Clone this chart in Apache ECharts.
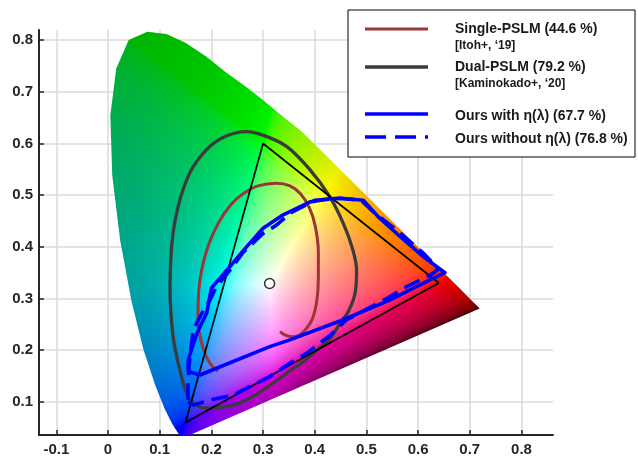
<!DOCTYPE html>
<html><head><meta charset="utf-8">
<script src="https://cdn.jsdelivr.net/npm/echarts@6/dist/echarts.min.js"></script>
<style>html,body{margin:0;padding:0;background:#fff}#c{width:638px;height:462px}</style>
</head><body><div id="c"></div>
<script>
// ---- tick labels ----
const xTicks = [-0.1, 0, 0.1, 0.2, 0.3, 0.4, 0.5, 0.6, 0.7, 0.8];
const yTicks = [0.1, 0.2, 0.3, 0.4, 0.5, 0.6, 0.7, 0.8];

// ---- spectral locus (460-640 nm) ----
const locusX = [0.1440,0.1355,0.1241,0.1096,0.0913,0.0687,0.0454,0.0235,0.0082,0.0045,0.0160,0.0400,0.0760,0.1130,0.1500,0.1900,0.2280,0.2650,0.3010,0.3370,0.3731,0.4087,0.4441,0.4788,0.5125,0.5448,0.5752,0.6029,0.6270,0.6482,0.6658,0.6801,0.6915,0.7006,0.7079,0.7140,0.7190];
const locusY = [0.0297,0.0399,0.0578,0.0868,0.1327,0.2007,0.2950,0.4127,0.5384,0.6548,0.7450,0.8000,0.8160,0.8120,0.7950,0.7680,0.7380,0.7110,0.6830,0.6530,0.6245,0.5896,0.5547,0.5202,0.4866,0.4544,0.4242,0.3965,0.3725,0.3514,0.3340,0.3197,0.3083,0.2993,0.2920,0.2859,0.2809];

// ---- Single-PSLM ----
const singleX = [0.213,0.197,0.183,0.174,0.176,0.190,0.213,0.238,0.262,0.290,0.326,0.352,0.372,0.390,0.401,0.407,0.407,0.404,0.396,0.384,0.370,0.356,0.343,0.333];
const singleY = [0.159,0.175,0.207,0.259,0.320,0.390,0.445,0.482,0.503,0.518,0.523,0.518,0.503,0.475,0.440,0.390,0.340,0.295,0.262,0.242,0.229,0.226,0.229,0.236];

// ---- Dual-PSLM ----
const dualX = [0.223,0.191,0.165,0.152,0.139,0.126,0.120,0.123,0.130,0.145,0.165,0.197,0.230,0.268,0.300,0.346,0.391,0.429,0.455,0.472,0.481,0.478,0.465,0.449,0.429,0.404,0.378,0.352,0.300,0.255,0.223];
const dualY = [0.090,0.088,0.097,0.117,0.162,0.226,0.323,0.400,0.452,0.510,0.555,0.594,0.615,0.623,0.616,0.594,0.549,0.497,0.446,0.400,0.355,0.310,0.275,0.252,0.222,0.200,0.178,0.160,0.123,0.098,0.090];

// ---- sRGB triangle ----
const srgbX = [0.64, 0.30, 0.15, 0.64];
const srgbY = [0.33, 0.60, 0.06, 0.33];

// ---- Ours with eta ----
const oursX = [0.155,0.155,0.172,0.191,0.200,0.236,0.268,0.300,0.339,0.391,0.429,0.449,0.494,0.523,0.565,0.610,0.652,0.623,0.545,0.455,0.352,0.313,0.178,0.155];
const oursY = [0.159,0.181,0.233,0.272,0.320,0.362,0.400,0.436,0.462,0.487,0.493,0.494,0.490,0.458,0.420,0.381,0.350,0.336,0.297,0.259,0.220,0.207,0.152,0.159];

// ---- Ours without eta ----
const oursNoX = [0.155,0.165,0.204,0.242,0.313,0.352,0.384,0.429,0.462,0.539,0.578,0.623,0.640,0.610,0.558,0.513,0.490,0.449,0.400,0.352,0.326,0.300,0.262,0.236,0.210,0.197,0.178,0.165,0.159,0.155,0.155];
const oursNoY = [0.100,0.094,0.105,0.113,0.149,0.175,0.194,0.228,0.259,0.300,0.323,0.345,0.357,0.388,0.433,0.468,0.490,0.494,0.490,0.465,0.442,0.426,0.390,0.355,0.323,0.297,0.265,0.239,0.194,0.145,0.100];

// ---- white point ----
const whiteX = [0.3127];
const whiteY = [0.329];

const zip = (a, b) => a.map((v, i) => [v, b[i]]);

function gam(v){ v = Math.max(0, Math.min(1, v)); return v <= 0.0031308 ? 12.92*v : 1.055*Math.pow(v, 1/2.4) - 0.055; }
const PB = [locusX[0], locusY[0]], PR = [locusX[locusX.length-1], locusY[locusY.length-1]];
const pdx = PR[0]-PB[0], pdy = PR[1]-PB[1], PL = Math.hypot(pdx, pdy), pux = pdx/PL, puy = pdy/PL;
function colorAt(x, y){
  if (y <= 0.002) return [0,0,0];
  const X = x/y, Z = (1-x-y)/y;
  let r = 3.2406*X - 1.5372 - 0.4986*Z;
  let g = -0.9689*X + 1.8758 + 0.0415*Z;
  let b = 0.0557*X - 0.2040 + 1.0570*Z;
  const neg = Math.max(0,-r) + Math.max(0,-g) + Math.max(0,-b);
  r = Math.max(r,0); g = Math.max(g,0); b = Math.max(b,0);
  const m = Math.max(r,g,b,1e-6);
  let s = Math.pow(m/(m+neg), 1.35);
  const rx = x-PB[0], ry = y-PB[1];
  let t = (rx*pux + ry*puy)/PL; t = Math.max(0, Math.min(1, t));
  const d = Math.max(0, -rx*puy + ry*pux);
  const me = 0.03 + 0.97*Math.exp(-5*Math.pow(t, 1.5));
  const w = 0.09;
  const k = d >= w ? 1 : me + (1-me)*Math.pow(d/w, 0.7);
  s *= k;
  return [gam(r/m*s)*255, gam(g/m*s)*255, gam(b/m*s)*255];
}

let fillCache = null;
function renderFill(params, api){
  const cs = params.coordSys;
  const W = Math.round(cs.width), H = Math.round(cs.height);
  const a = api.coord([0,0]), b = api.coord([1,1]);
  const sx = b[0]-a[0], sy = b[1]-a[1];
  if (!fillCache){
    const cv = document.createElement('canvas'); cv.width = W; cv.height = H;
    const ctx = cv.getContext('2d');
    const img = ctx.createImageData(W, H);
    for (let j = 0; j < H; j++){
      const dy = (cs.y + j + 0.5 - a[1])/sy;
      for (let i = 0; i < W; i++){
        const dx = (cs.x + i + 0.5 - a[0])/sx;
        const c = colorAt(dx, dy);
        const o = (j*W + i)*4;
        img.data[o] = c[0]; img.data[o+1] = c[1]; img.data[o+2] = c[2]; img.data[o+3] = 255;
      }
    }
    ctx.putImageData(img, 0, 0);
    const cv2 = document.createElement('canvas'); cv2.width = W; cv2.height = H;
    const c2 = cv2.getContext('2d');
    c2.beginPath();
    for (let k = 0; k < locusX.length; k++){
      const p = api.coord([locusX[k], locusY[k]]);
      if (k === 0) c2.moveTo(p[0]-cs.x, p[1]-cs.y); else c2.lineTo(p[0]-cs.x, p[1]-cs.y);
    }
    c2.closePath();
    c2.fillStyle = '#000'; c2.fill();
    c2.globalCompositeOperation = 'source-in';
    c2.drawImage(cv, 0, 0);
    fillCache = cv2;
  }
  return { type: 'image', silent: true, style: { image: fillCache, x: cs.x, y: cs.y, width: W, height: H } };
}

const FONT = 'Liberation Sans, Arial, sans-serif';
const AX = '#262626';
const chart = echarts.init(document.getElementById('c'), null, { renderer: 'canvas' });
const graphic = [
  { type: 'rect', shape: { x: 348, y: 10, width: 287, height: 147 }, style: { fill: '#fff', stroke: '#000', lineWidth: 1 }, z: 100 },
  { type: 'line', shape: { x1: 365, y1: 29, x2: 428, y2: 29 }, style: { stroke: '#9b3636', lineWidth: 3 }, z: 101 },
  { type: 'line', shape: { x1: 365, y1: 67, x2: 428, y2: 67 }, style: { stroke: '#3b3b3b', lineWidth: 3.3 }, z: 101 },
  { type: 'line', shape: { x1: 365, y1: 114, x2: 428, y2: 114 }, style: { stroke: '#0000ff', lineWidth: 3.6 }, z: 101 },
  { type: 'line', shape: { x1: 365, y1: 137, x2: 428, y2: 137 }, style: { stroke: '#0000ff', lineWidth: 3.6, lineDash: [21, 9] }, z: 101 },
  { type: 'text', x: 455, y: 29, style: { text: 'Single-PSLM (44.6 %)', font: 'bold 14px ' + FONT, fill: '#1a1a1a', verticalAlign: 'middle' }, z: 101 },
  { type: 'text', x: 455, y: 46, style: { text: '[Itoh+, \u201819]', font: 'bold 12px ' + FONT, fill: '#1a1a1a', verticalAlign: 'middle' }, z: 101 },
  { type: 'text', x: 455, y: 67, style: { text: 'Dual-PSLM (79.2 %)', font: 'bold 14px ' + FONT, fill: '#1a1a1a', verticalAlign: 'middle' }, z: 101 },
  { type: 'text', x: 455, y: 84, style: { text: '[Kaminokado+, \u201820]', font: 'bold 12px ' + FONT, fill: '#1a1a1a', verticalAlign: 'middle' }, z: 101 },
  { type: 'text', x: 455, y: 116, style: { text: 'Ours with \u03b7(\u03bb) (67.7 %)', font: 'bold 14px ' + FONT, fill: '#1a1a1a', verticalAlign: 'middle' }, z: 101 },
  { type: 'text', x: 455, y: 139, style: { text: 'Ours without \u03b7(\u03bb) (76.8 %)', font: 'bold 14px ' + FONT, fill: '#1a1a1a', verticalAlign: 'middle' }, z: 101 }
];

chart.setOption({
  animation: false,
  backgroundColor: '#fff',
  grid: { left: 39, right: 85, top: 30, bottom: 27, containLabel: false },
  xAxis: {
    type: 'value', min: -0.1335, max: 0.861,
    axisLine: { show: true, onZero: false, lineStyle: { color: AX, width: 2 } },
    axisTick: { show: true, inside: true, length: 5, customValues: xTicks, lineStyle: { color: AX, width: 1.5 } },
    axisLabel: { customValues: xTicks, margin: 7, color: AX, fontSize: 15, fontWeight: 'bold', fontFamily: FONT, showMinLabel: true, showMaxLabel: true },
    splitLine: { show: true, lineStyle: { color: '#dadada', width: 1.5 } }
  },
  yAxis: {
    type: 'value', min: 0.036, max: 0.8195,
    axisLine: { show: true, onZero: false, lineStyle: { color: AX, width: 2 } },
    axisTick: { show: true, inside: true, length: 5, customValues: yTicks, lineStyle: { color: AX, width: 1.5 } },
    axisLabel: { customValues: yTicks, margin: 6, color: AX, fontSize: 15, fontWeight: 'bold', fontFamily: FONT },
    splitLine: { show: true, lineStyle: { color: '#dadada', width: 1.5 } }
  },
  graphic: graphic,
  series: [
    { type: 'custom', name: 'locus', data: [[0, 0]], renderItem: renderFill, clip: true, z: 1, silent: true },
    { type: 'line', name: 'Dual-PSLM (79.2 %)', data: zip(dualX, dualY), showSymbol: false, smooth: 0.35, lineStyle: { color: '#3b3b3b', width: 3.3 }, z: 3 },
    { type: 'line', name: 'Single-PSLM (44.6 %)', data: zip(singleX, singleY), showSymbol: false, smooth: 0.35, lineStyle: { color: '#9b3636', width: 3 }, z: 3 },
    { type: 'line', name: 'sRGB', data: zip(srgbX, srgbY), showSymbol: false, lineStyle: { color: '#000', width: 1.7 }, z: 4 },
    { type: 'line', name: 'Ours with \u03b7(\u03bb) (67.7 %)', data: zip(oursX, oursY), showSymbol: false, lineStyle: { color: '#0000ff', width: 3.6, join: 'round' }, z: 5 },
    { type: 'line', name: 'Ours without \u03b7(\u03bb) (76.8 %)', data: zip(oursNoX, oursNoY), showSymbol: false, lineStyle: { color: '#0000ff', width: 3.6, type: [17, 8] }, z: 5 },
    { type: 'scatter', name: 'white', data: zip(whiteX, whiteY), symbol: 'circle', symbolSize: 10, itemStyle: { color: '#fff', borderColor: '#000', borderWidth: 1.5 }, z: 6 }
  ]
});
</script></body></html>
